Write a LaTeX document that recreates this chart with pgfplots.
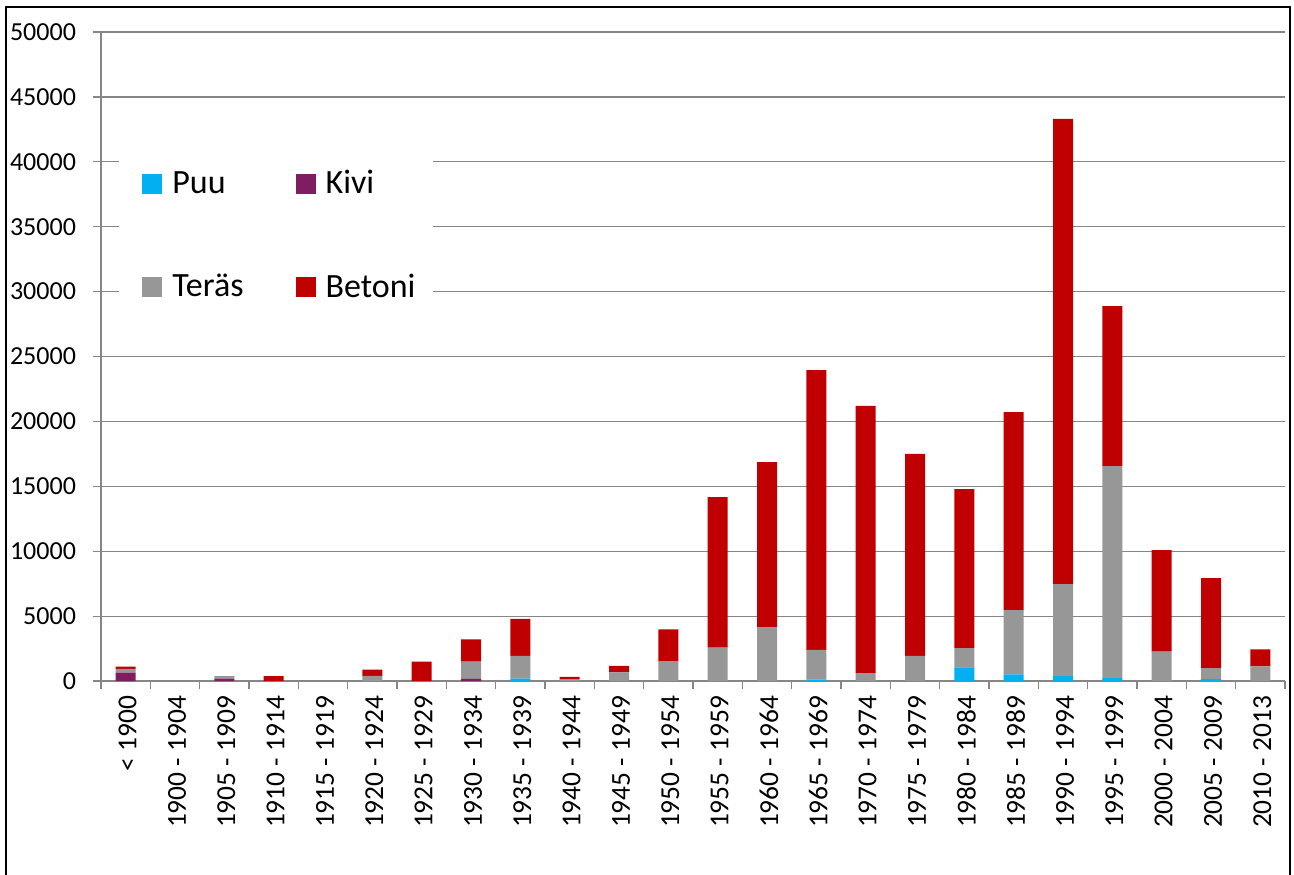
\documentclass[border=0pt]{standalone}
\usepackage{pgfplots}
\pgfplotsset{compat=1.18}
\usepackage{pgfplotstable}
\usepackage{fontspec}
\setmainfont{Carlito}
\definecolor{puu}{HTML}{00B0F0}
\definecolor{kivi}{HTML}{7E1E61}
\definecolor{teras}{HTML}{979797}
\definecolor{betoni}{HTML}{C00000}
\definecolor{axgray}{HTML}{868686}
\pgfplotstableread{
x puu kivi teras betoni
0 0 650 280 170
1 0 0 0 0
2 0 180 200 0
3 0 0 0 385
4 0 0 0 0
5 0 0 400 480
6 0 0 0 1490
7 0 170 1320 1720
8 180 0 1750 2850
9 0 0 150 160
10 0 0 670 490
11 0 0 1540 2440
12 0 0 2570 11600
13 0 0 4160 12710
14 100 0 2290 21570
15 0 0 600 20590
16 0 0 1930 15560
17 1050 0 1490 12250
18 520 0 4950 15250
19 380 0 7090 35830
20 230 0 16330 12330
21 0 0 2260 7830
22 150 0 850 6935
23 0 0 1130 1310
}\data
\begin{document}
\begin{tikzpicture}
\useasboundingbox (-50.5pt,-96.5pt) rectangle (596.5pt,340.5pt);
\draw[line width=1.2pt] (-47.5pt,-100pt) rectangle (594.5pt,337pt);
\begin{axis}[
  at={(0pt,0pt)}, anchor=south west,
  scale only axis, width=592pt, height=324.5pt,
  ybar stacked, bar width=10pt,
  xmin=-0.5, xmax=23.5, ymin=0, ymax=50000,
  ytick={0,5000,...,50000},
  scaled y ticks=false,
  xtick={-0.5,0.5,...,23.5},
  x tick label as interval,
  xticklabels={< 1900,1900 - 1904,1905 - 1909,1910 - 1914,1915 - 1919,1920 - 1924,1925 - 1929,1930 - 1934,1935 - 1939,1940 - 1944,1945 - 1949,1950 - 1954,1955 - 1959,1960 - 1964,1965 - 1969,1970 - 1974,1975 - 1979,1980 - 1984,1985 - 1989,1990 - 1994,1995 - 1999,2000 - 2004,2005 - 2009,2010 - 2013},
  xticklabel style={xshift=1pt, rotate=90, anchor=east, font=\fontsize{13.7}{16}\selectfont},
  yticklabel style={xshift=-5pt, font=\fontsize{13}{15}\selectfont},
  /pgf/number format/.cd, 1000 sep={}, assume math mode=true, /pgfplots/.cd,
  axis x line*=bottom, axis y line*=left,
  axis line style={axgray, line width=0.6pt},
  tick align=outside, major tick length=4pt,
  tick style={axgray, line width=0.6pt},
  ymajorgrids, grid style={axgray, line width=0.6pt},
  legend columns=2,
  legend image code/.code={\path (-4.5pt,0pt); \fill[#1] (0pt,-5pt) rectangle (10pt,5pt); \path (13pt,0pt);},
  legend style={draw=none, fill=white, at={(0.0152,0.8336)}, anchor=north west,
    font=\fontsize{17}{20}\selectfont, inner xsep=7pt, inner ysep=13pt,
    row sep=34.5pt,
    /tikz/every even column/.append style={column sep=19.5pt}},
  legend cell align=left,
]
\addplot[fill=puu, draw=none] table[x=x, y=puu] {\data};
\addplot[fill=kivi, draw=none] table[x=x, y=kivi] {\data};
\addplot[fill=teras, draw=none] table[x=x, y=teras] {\data};
\addplot[fill=betoni, draw=none] table[x=x, y=betoni] {\data};
\legend{Puu, Kivi, Teräs, Betoni}
\end{axis}
\end{tikzpicture}
\end{document}
